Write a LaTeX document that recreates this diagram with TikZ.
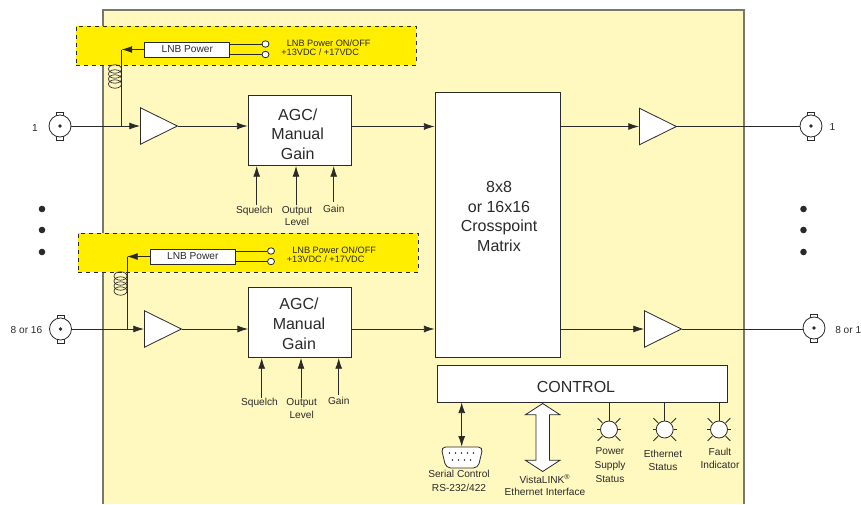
\documentclass[tikz,border=0pt]{standalone}
\usepackage{fontspec}
\setmainfont{Liberation Sans}
\usetikzlibrary{arrows.meta, shapes.geometric, shapes.arrows}
\definecolor{panelcol}{HTML}{FFF8BF}
\definecolor{lnbcol}{HTML}{FFEE00}
\definecolor{inkcol}{HTML}{2A2A2A}
\definecolor{framecol}{HTML}{77776A}
\begin{document}
\begin{tikzpicture}[
  x=0.75pt, y=-0.75pt,
  font=\fontsize{7.6}{9.6}\selectfont,
  text=inkcol,
  line/.style={draw=inkcol, line width=0.6pt},
  sig/.style={line, -{Latex[length=8pt, width=5.2pt]}},
  block/.style={line, fill=white, rectangle, inner sep=0pt},
  biglbl/.style={align=center, inner sep=0pt, font=\fontsize{12}{14.7}\selectfont},
  lnbbox/.style={draw=inkcol, line width=0.5pt, dashed, fill=lnbcol, rectangle,
    inner sep=0pt, minimum width=340*0.75pt, minimum height=39*0.75pt},
  lnbpower/.style={line, fill=white, rectangle, inner sep=0pt,
    minimum width=85*0.75pt, minimum height=15*0.75pt},
  amp/.style={line, fill=white, isosceles triangle, isosceles triangle stretches,
    inner sep=0pt, anchor=lower side, minimum width=36.5*0.75pt, minimum height=37*0.75pt},
  bnc/.style={line, fill=white, circle, inner sep=0pt, minimum size=22*0.75pt},
  led/.style={line, fill=white, circle, inner sep=0pt, minimum size=17*0.75pt},
  pin/.style={line, fill=white, ellipse, inner sep=0pt, minimum width=7*0.75pt, minimum height=6.5*0.75pt},
  dotmark/.style={fill=inkcol, circle, inner sep=0pt, minimum size=6.6*0.75pt},
  lbl/.style={align=center, inner sep=0pt},
  small/.style={lbl, font=\fontsize{6.9}{9.2}\selectfont},
]
\useasboundingbox (0,0) rectangle (861,504);

% --- Module background ---
\fill[panelcol] (103,10) rectangle (744,504);
\draw[framecol, line width=0.8pt] (103,504) -- (103,10) -- (744,10) -- (744,504);

% --- Optional LNB power strips ---
\foreach \n/\x/\y/\s in {A/0/0/246, B/5.5/207/248} {
  \node[lnbbox] (strip\n) at (\s,{45.5+\y}) {};
  \node[lnbpower] (lnb\n) at ({187.3+\x},{49.5+\y}) {LNB Power};
  \node[pin] (on\n) at ({265.5+\x},{44+\y}) {};
  \node[pin] (volt\n) at ({265.5+\x},{54.5+\y}) {};
  \draw[line] (on\n) -- (on\n -| lnb\n.east);
  \draw[line] (volt\n) -- (volt\n -| lnb\n.east);
  \coordinate (feed\n) at ({121.5+\x},{49.5+\y});
  \draw[sig] (lnb\n.west) -- (feed\n);
  \node[small, anchor=west] (onlbl\n) at ({286.5+\x},{43+\y}) {LNB Power ON/OFF};
  \node[small, anchor=west] (voltlbl\n) at ({281+\x},{52.5+\y}) {+13VDC / +17VDC};
  % choke
  \foreach \c in {69,74,79,84} {
    \draw[line, line width=0.5pt] ({115+\x},{\c+\y}) ellipse [x radius=6.5, y radius=4.2];
  }
}

% --- Input and output connectors ---
\foreach \n/\x/\y in {inA/60/126, inB/60.5/329, outA/811/126, outB/814/328} {
  \draw[line, fill=white] ({\x-3.5},{\y-14}) rectangle ({\x+3.5},{\y-10});
  \draw[line, fill=white] ({\x-3.5},{\y+10}) rectangle ({\x+3.5},{\y+14});
  \node[bnc] (\n) at (\x,\y) {};
  \fill[inkcol] (\x,\y) circle [radius=1.9];
}
\node[lbl] (inAlbl) at (35,128) {1};
\node[lbl] (inBlbl) at (26.5,330) {8 or 16};
\node[lbl] (outAlbl) at (832.5,127) {1};
\node[lbl, anchor=west] (outBlbl) at (835,330) {8 or 1};

% --- Signal path ---
\node[amp] (ampA) at (140,126) {};
\node[amp] (ampB) at (144,329) {};
\node[amp] (ampC) at (639,126.5) {};
\node[amp] (ampD) at (644,329) {};
\node[block, minimum width=103*0.75pt, minimum height=70*0.75pt] (agcA) at (299.5,130) {};
\node[biglbl] (agcAlbl) at (297.7,134) {AGC/\\Manual\\Gain};
\node[block, minimum width=103*0.75pt, minimum height=70*0.75pt] (agcB) at (300,322) {};
\node[biglbl] (agcBlbl) at (299,323.7) {AGC/\\Manual\\Gain};
\node[block, minimum width=125*0.75pt, minimum height=265*0.75pt] (xpt) at (497.5,224.5) {};
\node[biglbl] (xptlbl) at (499,216.5) {8x8\\or 16x16\\Crosspoint\\Matrix};
\node[block, minimum width=290*0.75pt, minimum height=37*0.75pt] (ctrl) at (582,383.5) {};
\node[biglbl] (ctrllbl) at (576,387) {CONTROL};

\draw[sig] (inA) -- (ampA.lower side);
\draw[sig] (inB) -- (ampB.lower side);
\draw[sig] (ampA.apex) -- (ampA.apex -| agcA.west);
\draw[sig] (ampB.apex) -- (ampB.apex -| agcB.west);
\draw[sig] (agcA.east |- ampC.lower side) -- (ampC.lower side -| xpt.west);
\draw[sig] (agcB.east |- ampD.lower side) -- (ampD.lower side -| xpt.west);
\draw[sig] (ampC.lower side -| xpt.east) -- (ampC.lower side);
\draw[sig] (ampD.lower side -| xpt.east) -- (ampD.lower side);
\draw[line] (ampC.apex) -- (ampC.apex -| outA.west);
\draw[line] (ampD.apex) -- (ampD.apex -| outB.west);
\draw[line] (feedA) -- (feedA |- inA);
\draw[line] (feedB) -- (feedB |- ampB.lower side);

% --- Gain controls ---
\foreach \n/\s/\o/\g/\t/\b in {A/256.7/296/333.7/205/166, B/261.7/301/338.7/397.5/358} {
  \coordinate (sq\n) at (\s,\t);
  \coordinate (ol\n) at (\o,\t);
  \coordinate (gn\n) at (\g,{\t-3});
  \draw[sig] (sq\n) -- (\s,\b);
  \draw[sig] (ol\n) -- (\o,\b);
  \draw[sig] (gn\n) -- (\g,\b);
}
\node[lbl] (sqlblA) at (254.5,210.5) {Squelch};
\node[lbl] (ollblA) at (297,216) {Output\\Level};
\node[lbl] (gnlblA) at (333.7,208.5) {Gain};
\node[lbl] (sqlblB) at (259.5,402.5) {Squelch};
\node[lbl] (ollblB) at (301.7,408.5) {Output\\Level};
\node[lbl] (gnlblB) at (338.7,400.5) {Gain};

% --- Serial port ---
\coordinate (sub) at (461.7,446.7);
\draw[line, fill=white, rounded corners=3.5pt] (441,447) -- (483,447) -- (478,468) -- (446,468) -- cycle;
\foreach \px in {449.5,455.5,461.5,467.5,473.5} { \fill[inkcol] (\px,453) circle [radius=0.8]; }
\foreach \px in {452.5,458.5,464.5,470.5} { \fill[inkcol] (\px,460) circle [radius=0.8]; }
\draw[line, {Latex[length=8pt, width=5.2pt]}-{Latex[length=8pt, width=5.2pt]}] (sub |- ctrl.south) -- (sub);
\node[lbl] (serlbl) at (459,481) [font=\fontsize{7.6}{10.2}\selectfont] {Serial Control\\RS-232/422};

% --- Ethernet ---
\node[line, fill=white, double arrow, rotate=90, inner sep=6.3*0.75pt,
  minimum height=68*0.75pt, minimum width=34*0.75pt,
  double arrow head extend=10.7*0.75pt, double arrow tip angle=114] (vista) at (542.7,437.5) {};
\node[lbl] (vistalbl) at (545,485) [font=\fontsize{7.6}{9}\selectfont] {VistaLINK\textsuperscript{®}\\Ethernet Interface};

% --- Status lamps ---
\foreach \n/\x in {psu/609, eth/664.7, flt/719} {
  \node[led] (\n) at (\x,429.5) {};
  \draw[line] (\n) -- (\n |- ctrl.south);
  \foreach \a in {45,135,225,315} {
    \draw[line] (\n) ++(\a:9.5) -- ++(\a:6.5);
  }
  \foreach \a in {0,180,270} {
    \draw[line] (\n) ++(\a:9) -- ++(\a:3);
  }
}
\node[lbl] (psulbl) at (610,465) [font=\fontsize{7.6}{10.2}\selectfont] {Power\\Supply\\Status};
\node[lbl] (ethlbl) at (663,460.5) [font=\fontsize{7.6}{9.6}\selectfont] {Ethernet\\Status};
\node[lbl] (fltlbl) at (720,458.5) [font=\fontsize{7.6}{10.2}\selectfont] {Fault\\Indicator};

% --- Continuation dots ---
\foreach \n/\x in {l/42, r/803.5} {
  \foreach \m/\y in {a/209, b/230, c/252} {
    \node[dotmark] (dot\n\m) at (\x,\y) {};
  }
}

\end{tikzpicture}
\end{document}
